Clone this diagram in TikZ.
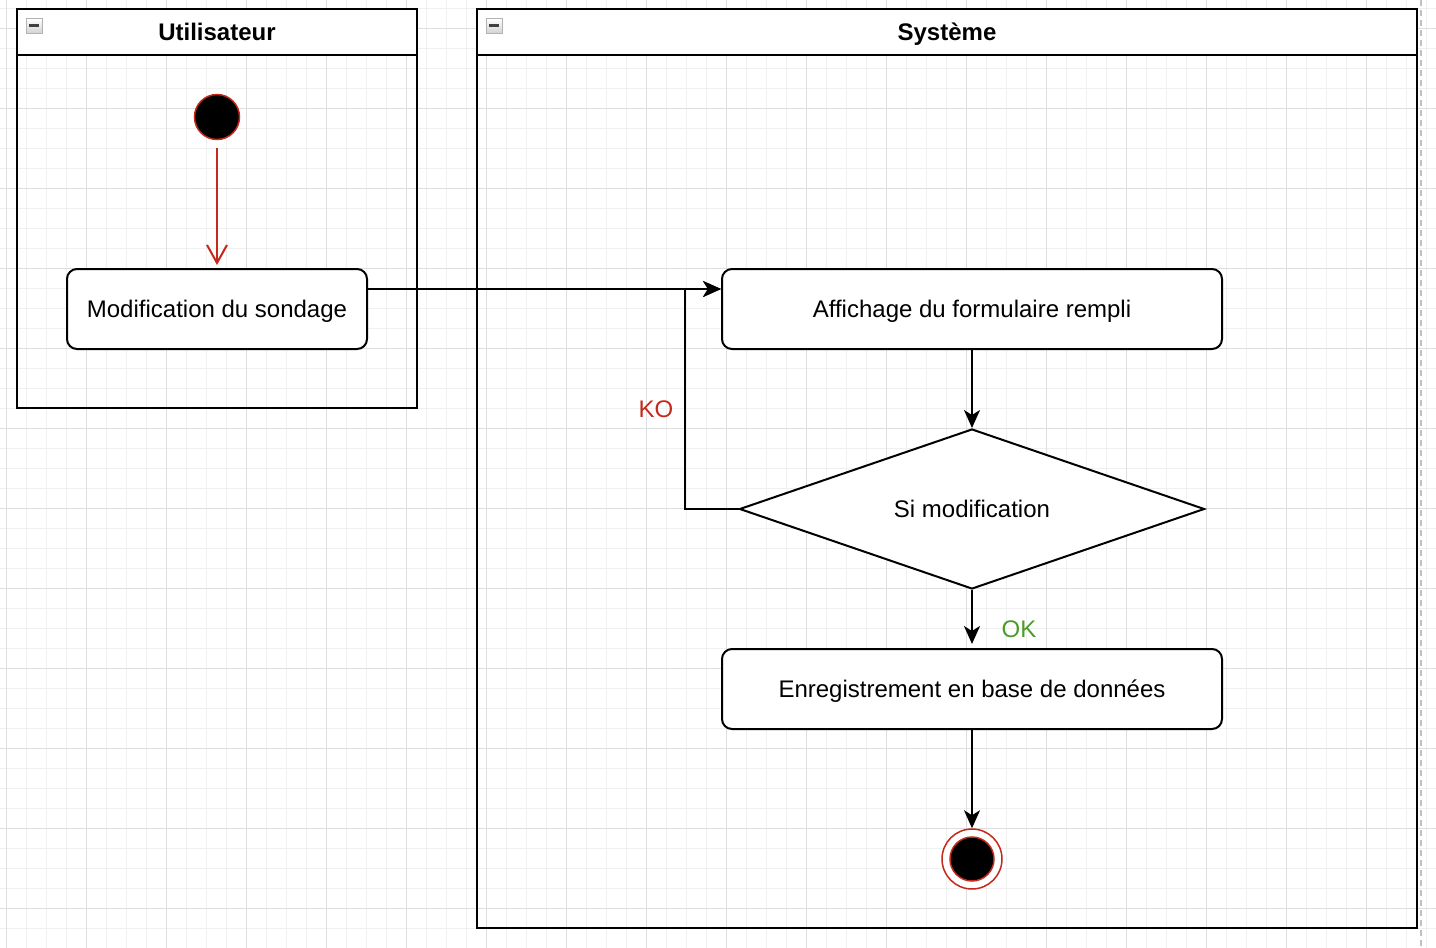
\documentclass[tikz,border=0pt]{standalone}
\usepackage{fontspec}
\setmainfont{Liberation Sans}
\usetikzlibrary{arrows.meta,shapes.geometric}
\definecolor{ko-red}{HTML}{C4291C}
\definecolor{ok-green}{HTML}{4D9A2A}
\definecolor{grid-minor}{HTML}{F0F0F0}
\definecolor{grid-major}{HTML}{DEDEDE}
\definecolor{page-edge}{HTML}{C0C0C0}
\tikzstyle{big-text} = [font=\fontsize{24}{29}\selectfont, text height=21.7pt, text depth=5.1pt]
\tikzstyle{lane} = [draw=black, line width=2pt, rectangle, inner sep=0pt]
\tikzstyle{lane-head} = [draw=black, fill=white, line width=2pt, rectangle,
    inner sep=0pt, big-text, font=\bfseries\fontsize{24}{29}\selectfont]
\tikzstyle{lane-icon} = [draw=gray!60, rectangle, top color=white,
    bottom color=gray!35, minimum width=16pt, minimum height=15pt, inner sep=0pt,
    path picture={\draw[line width=2.5pt, black!75]
        ([xshift=3pt]path picture bounding box.west) --
        ([xshift=-3pt]path picture bounding box.east);}]
\tikzstyle{action} = [draw=black, fill=white, line width=2pt, rounded corners=10pt,
    rectangle, minimum width=300pt, minimum height=80pt, big-text]
\tikzstyle{decision} = [draw=black, fill=white, line width=2pt, diamond, aspect=3,
    inner sep=0pt, minimum width=465pt, minimum height=160pt, big-text]
\tikzstyle{start-dot} = [circle, fill=black, draw=ko-red, line width=1.5pt,
    minimum size=45pt, inner sep=0pt]
\tikzstyle{end-ring} = [circle, fill=white, draw=ko-red, line width=1.5pt,
    minimum size=60pt, inner sep=0pt]
\tikzstyle{flow} = [draw=black, line width=2pt,
    -{Stealth[length=18pt, width=16pt, inset=5pt]}]
\tikzstyle{init-flow} = [draw=ko-red, line width=2pt,
    -{Straight Barb[length=18pt, width=20pt]}]
\tikzstyle{guard} = [font=\fontsize{24}{29}\selectfont, inner sep=0pt]

\begin{document}
\begin{tikzpicture}[x=1pt, y=-1pt]
\useasboundingbox (0,0) rectangle (1436,948);
% background grid
\foreach \i in {0,...,71}
    \draw[grid-minor, line width=1pt] (6.7+20*\i,0) -- (6.7+20*\i,948);
\foreach \i in {0,...,47}
    \draw[grid-minor, line width=1pt] (0,8+20*\i) -- (1436,8+20*\i);
\foreach \i in {0,...,17}
    \draw[grid-major, line width=1pt] (6.7+80*\i,0) -- (6.7+80*\i,948);
\foreach \i in {0,...,11}
    \draw[grid-major, line width=1pt] (0,28+80*\i) -- (1436,28+80*\i);
\draw[page-edge, line width=2pt, dash pattern=on 6pt off 4pt] (1421,0) -- (1421,948);

% swimlanes
\node[lane, minimum width=400pt, minimum height=399pt] (userlane) at (217,208.5) {};
\node[lane-head, minimum width=400pt, minimum height=46pt, anchor=north] (userhead)
    at (userlane.north) {Utilisateur};
\node[lane-icon, anchor=north west] at ([xshift=10pt,yshift=-10pt]userhead.north west) {};
\node[lane, minimum width=940pt, minimum height=919pt] (syslane) at (947,468.5) {};
\node[lane-head, minimum width=940pt, minimum height=46pt, anchor=north] (syshead)
    at (syslane.north) {Système};
\node[lane-icon, anchor=north west] at ([xshift=10pt,yshift=-10pt]syshead.north west) {};

% activity nodes
\node[start-dot] (debut) at (217,117) {};
\node[action] (modif) at (217,309) {Modification du sondage};
\node[action, minimum width=500pt] (affich) at (972,309) {Affichage du formulaire rempli};
\node[decision] (choix) at (972,509) {Si modification};
\node[action, minimum width=500pt] (enreg) at (972,689) {Enregistrement en base de données};
\node[end-ring] (fin) at (972,859) {};
\node[start-dot, minimum size=44pt] at (fin) {};
\coordinate (retour) at (685,289);

% connectors
\draw[init-flow] ([yshift=-8pt]debut.south) -- ([yshift=3pt]modif.north);
\draw[flow] ([yshift=20pt]modif.east) -- ([yshift=20pt]affich.west);
\draw[flow] (affich) -- (choix);
\draw[line width=2pt] (choix.west) -| (retour);
\draw[flow] (retour) -- ([yshift=20pt]affich.west);
\draw[flow] (choix.south) -- ([yshift=4pt]enreg.north);
\draw[flow] (enreg) -- (fin);
\node[guard, text=ko-red] (ko) at (656,409) {KO};
\node[guard, text=ok-green] (ok) at (1019,629) {OK};
\end{tikzpicture}
\end{document}
